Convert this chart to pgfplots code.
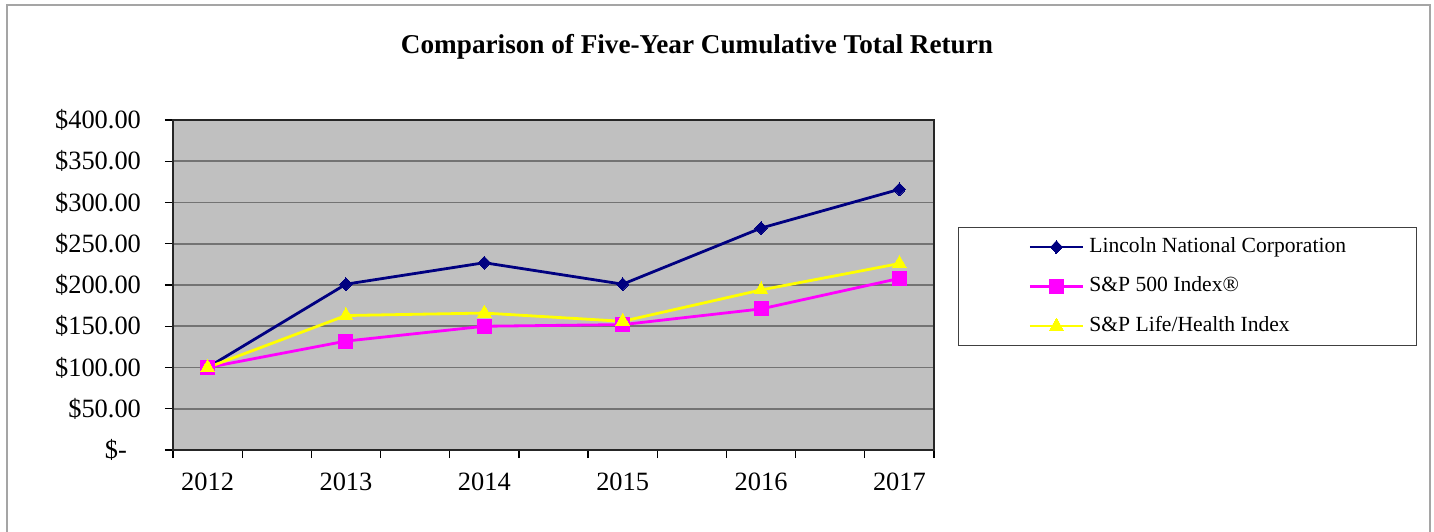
\documentclass[border=0pt]{standalone}
\usepackage{pgfplots}
\pgfplotsset{compat=1.18}
\usepackage{fontspec}
\setmainfont{Liberation Serif}
\definecolor{navyline}{RGB}{0,0,128}
\definecolor{magline}{RGB}{255,0,255}
\definecolor{yelline}{RGB}{255,255,0}
\definecolor{plotbg}{RGB}{192,192,192}
\definecolor{gridc}{RGB}{128,128,128}
\definecolor{framec}{RGB}{165,165,165}
\begin{document}
\begin{tikzpicture}
\path[use as bounding box] (-86.5pt,-40.5pt) rectangle (630.5pt,225pt);
\draw[framec, line width=1pt] (-83pt,-45pt) -- (-83pt,222.5pt) -- (628.5pt,222.5pt) -- (628.5pt,-45pt);
\begin{axis}[
  at={(0pt,0pt)}, anchor=south west,
  scale only axis, width=380.5pt, height=165pt,
  xmin=-0.25, xmax=5.25, ymin=0, ymax=400,
  xtick={-0.25,0.25,...,5.25}, xticklabels={},
  extra x ticks={0,1,2,3,4,5},
  extra x tick labels={2012,2013,2014,2015,2016,2017},
  extra x tick style={major tick length=0pt, grid=none},
  ytick={0,50,...,400},
  yticklabels={\$-\rule{7pt}{0pt},\$50.00,\$100.00,\$150.00,\$200.00,\$250.00,\$300.00,\$350.00,\$400.00},
  tick align=outside, major tick length=4pt,
  xtick pos=bottom, ytick pos=left,
  tick style={black, line width=0.6pt},
  tick label style={font=\fontsize{13.2}{15}\selectfont},
  yticklabel style={xshift=-8.5pt},
  xticklabel style={yshift=-8pt},
  axis background/.style={fill=plotbg},
  axis line style={black!85, line width=0.8pt},
  ymajorgrids, grid style={gridc!90!black, line width=0.8pt},
  title={Comparison of Five-Year Cumulative Total Return},
  title style={at={(axis description cs:0.6886,1.185)}, anchor=center, font=\bfseries\fontsize{13.6}{16}\selectfont},
  legend style={at={(axis description cs:1.0315,0.6758)}, anchor=north west, draw=black!75, line width=0.6pt, fill=white, inner xsep=35pt, inner ysep=5pt, row sep=10.25pt, column sep=2.5pt, font=\fontsize{10.8}{12}\selectfont, nodes={inner sep=0pt, text height=7.3pt, text depth=2.2pt}},
  legend cell align=left,
  legend image code/.code={\draw[mark repeat=2,mark phase=2,#1] plot coordinates {(0pt,0pt) (13.25pt,0pt) (26.5pt,0pt)};},
]
\addplot[navyline, line width=1.4pt, mark=diamond*, mark size=3.2pt, mark options={fill=navyline, draw=navyline, line width=0pt, xscale=1.3}] coordinates {(0,100) (1,201) (2,227) (3,201) (4,269) (5,316)};
\addlegendentry{Lincoln National Corporation}
\addplot[magline, line width=1.4pt, mark=square*, mark size=3.5pt, mark options={fill=magline, draw=magline, line width=0pt}] coordinates {(0,100) (1,132) (2,150) (3,152) (4,171) (5,208)};
\addlegendentry{S\&P 500 Index®}
\addplot[yelline, line width=1.4pt, mark=triangle*, mark size=4pt, mark options={fill=yelline, draw=yelline, line width=0pt}] coordinates {(0,100) (1,163) (2,166) (3,156) (4,194) (5,226)};
\addlegendentry{S\&P Life/Health Index}
\end{axis}
\end{tikzpicture}
\end{document}
